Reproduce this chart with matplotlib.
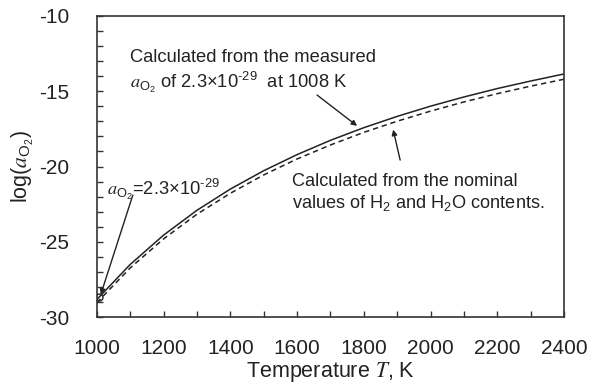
import matplotlib
matplotlib.use('Agg')
import matplotlib.pyplot as plt

plt.rcParams['font.family'] = ['Liberation Sans', 'DejaVu Sans']
plt.rcParams['mathtext.fontset'] = 'custom'
plt.rcParams['mathtext.rm'] = 'Liberation Sans'
plt.rcParams['mathtext.it'] = 'STIXGeneral:italic'
plt.rcParams['mathtext.default'] = 'regular'
plt.rcParams['axes.unicode_minus'] = False

# temperature (K) and log(aO2)
temps = [1000, 1100, 1200, 1300, 1400, 1500, 1600, 1700, 1800,
         1900, 2000, 2100, 2200, 2300, 2400]
measured = [-28.84, -26.51, -24.56, -22.91, -21.50, -20.28, -19.21, -18.26,
            -17.42, -16.67, -15.99, -15.38, -14.82, -14.32, -13.85]
nominal = [-29.05, -26.74, -24.81, -23.17, -21.78, -20.56, -19.50, -18.57,
           -17.73, -16.99, -16.32, -15.71, -15.16, -14.66, -14.20]

point_T = 1008
point_log = -28.64

x_ticks = [1000, 1200, 1400, 1600, 1800, 2000, 2200, 2400]
y_ticks = [-30, -25, -20, -15, -10]

ink = '#222222'
sup = '$^{\\text{-29}}$'

fig = plt.figure(figsize=(5.9, 3.9), dpi=100)
ax = fig.add_axes([0.164, 0.187, 0.792, 0.772])

ax.plot(temps, measured, color=ink, lw=1.1)
ax.plot(temps, nominal, color=ink, lw=1.1, linestyle=(0, (3.5, 2.5)))
ax.plot(point_T, point_log, marker='o', ms=5, mfc='none', mec=ink, mew=1.0)

ax.set_xlim(1000, 2400)
ax.set_ylim(-30, -10)
ax.set_xticks(x_ticks)
ax.set_xticks(range(1100, 2400, 200), minor=True)
ax.set_yticks(y_ticks)
ax.set_yticks([v for v in range(-29, -10) if v % 5 != 0], minor=True)

for s in ax.spines.values():
    s.set_color('#333333')
    s.set_linewidth(1.2)

ax.tick_params(which='both', direction='in', length=4, width=1.0, color='#333333',
               top=False, right=False)
ax.tick_params(axis='x', which='major', pad=16, labelsize=15, labelcolor=ink)
ax.tick_params(axis='y', which='major', pad=20, labelsize=15, labelcolor=ink)

ax.set_xlabel('Temperature $\\mathit{T}$, K', fontsize=15.5, color=ink, labelpad=1)
ax.set_ylabel('log($\\mathit{a}_{O_2}$)', fontsize=15.5, color=ink, labelpad=2)

ax.text(1100, -13.7, 'Calculated from the measured\n'
        '$\\mathit{a}_{O_2}$ of 2.3\u00d710' + sup + '  at 1008 K',
        fontsize=13.2, color=ink, va='center', ha='left', linespacing=1.2)
ax.annotate('', xy=(1780, -17.3), xytext=(1660, -15.25),
            arrowprops=dict(arrowstyle='-|>', color=ink, lw=1.0,
                            mutation_scale=8, shrinkA=0, shrinkB=0))

ax.text(1585, -21.75, 'Calculated from the nominal\n'
        'values of H$_2$ and H$_2$O contents.',
        fontsize=13.1, color=ink, va='center', ha='left', linespacing=1.2)
ax.annotate('', xy=(1888, -17.55), xytext=(1909, -19.57),
            arrowprops=dict(arrowstyle='-|>', color=ink, lw=1.0,
                            mutation_scale=8, shrinkA=0, shrinkB=0))

ax.text(1030, -21.55, '$\\mathit{a}_{O_2}$=2.3\u00d710' + sup,
        fontsize=13.2, color=ink, va='center', ha='left')
ax.annotate('', xy=(1012, -28.5), xytext=(1108, -21.9),
            arrowprops=dict(arrowstyle='-|>', color=ink, lw=1.0,
                            mutation_scale=8, shrinkA=0, shrinkB=0))

fig.savefig('out.png', dpi=100)
